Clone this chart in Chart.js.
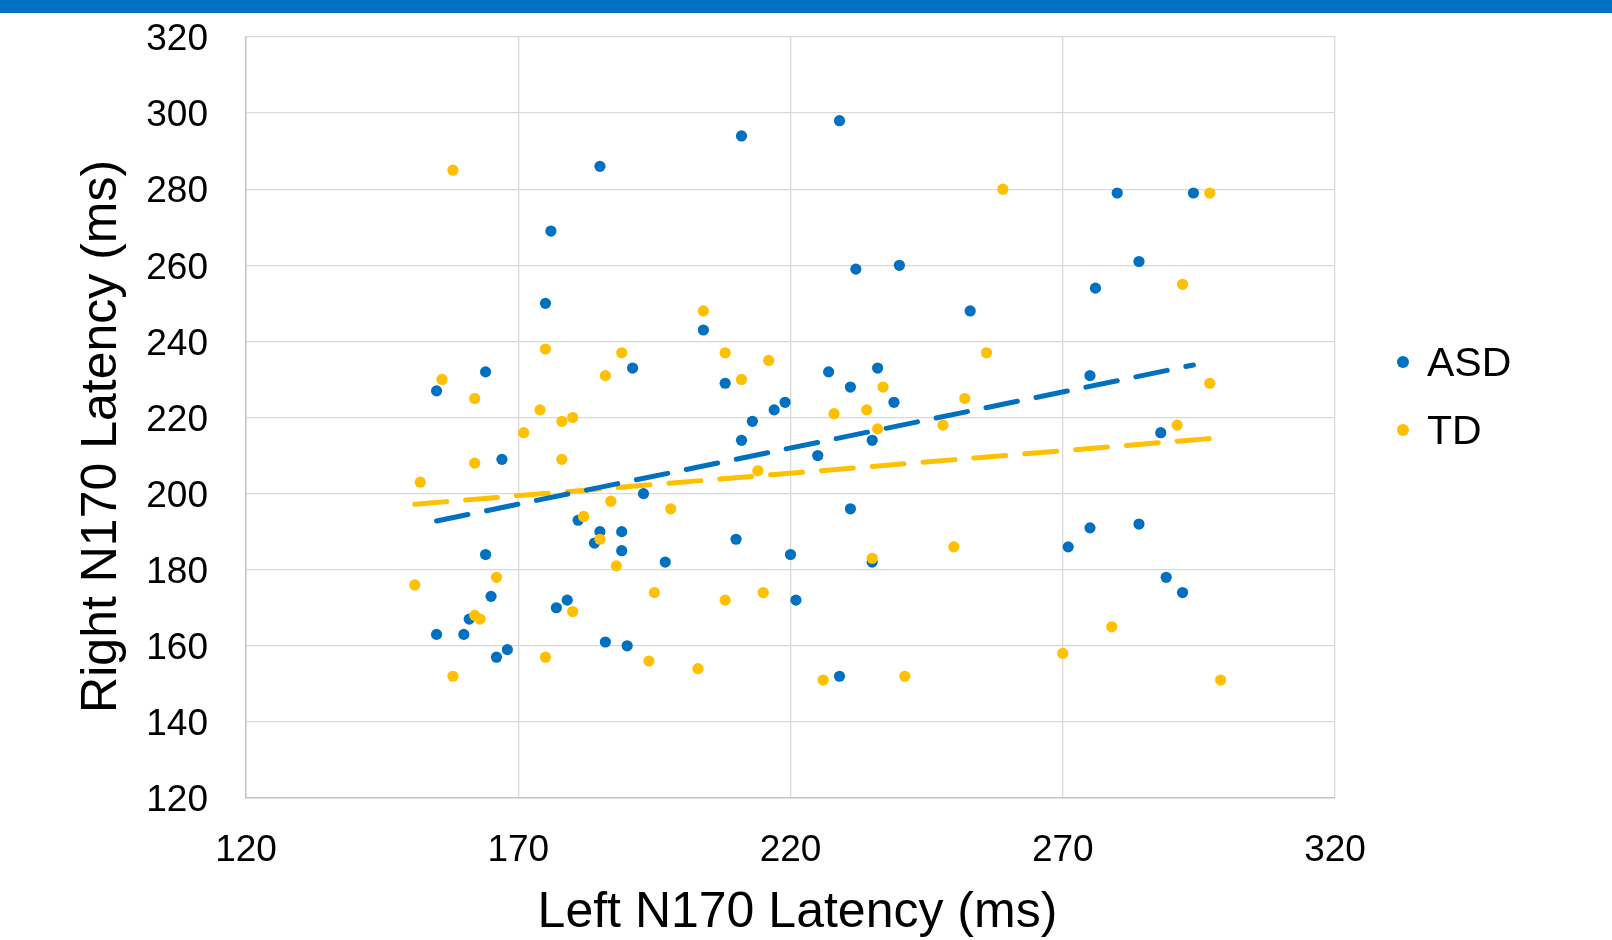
<!DOCTYPE html>
<html>
<head>
<meta charset="utf-8">
<script src="https://cdn.jsdelivr.net/npm/chart.js@4.4.0/dist/chart.umd.min.js"></script>
<style>
  html, body { margin:0; padding:0; background:#fff; }
  #wrap { position:relative; width:1612px; height:940px; overflow:hidden; }
  #topbar { position:absolute; left:0; top:0; width:1612px; height:13px; background:#0070C0; }
  #legend { position:absolute; left:1395px; top:337px; font-family:"Liberation Sans", Arial, sans-serif; }
  .lg-item { display:flex; align-items:center; height:50px; margin-bottom:18px; font-size:41px; line-height:50px; color:#000; }
  .lg-dot { width:12px; height:12px; border-radius:50%; margin-left:2px; margin-right:18px; }
</style>
</head>
<body>
<div id="wrap">
  <canvas id="chart" width="1612" height="940"></canvas>
  <div id="topbar"></div>
  <div id="legend"></div>
</div>
<script>
// Left / right N170 latency (ms), one entry per participant
const asdLeft  = [155,164,155,160,161,165,164,167,166,168,176,175,177,179,181,184,185,189,189,186,
                  190,185,191,193,197,204,208,211,211,210,213,217,219,220,221,225,227,229,229,231,
                  231,232,236,235,235,239,240,253,271,275,275,276,280,284,284,288,289,292,294];
const asdRight = [227,232,163,163,167,173,184,209,157,159,269,250,170,172,193,187,190,190,185,161,
                  160,286,233,200,182,243,229,294,214,188,219,222,224,184,172,210,232,298,152,228,
                  196,259,233,214,182,224,260,248,186,231,191,254,279,261,192,216,178,174,279];
const tdLeft   = [151,152,156,158,158,162,162,162,163,166,171,174,175,175,178,178,180,180,182,185,
                  186,187,188,189,194,195,198,203,204,208,208,211,214,215,216,226,228,234,236,235,
                  237,241,248,250,252,256,259,270,279,291,292,297,297,299];
const tdRight  = [176,203,230,285,152,225,208,168,167,178,216,222,238,157,219,209,220,169,194,188,
                  231,198,181,237,156,174,196,154,248,237,172,230,206,174,235,151,221,222,217,183,
                  228,152,218,186,225,237,280,158,165,218,255,279,229,151];

// linear trendline end points
const asdTrendX = [155, 294];
const asdTrendY = [192.8, 233.8];
const tdTrendX  = [151, 299];
const tdTrendY  = [197.2, 214.7];

const xTicks = { min:120, max:320, step:50 };
const yTicks = { min:120, max:320, step:20 };

const BLUE = "#0070C0";
const GOLD = "#FFC000";
const GRID = "#d9d9d9";

function pts(xs, ys) { return xs.map((x,i) => ({ x, y: ys[i] })); }

Chart.defaults.font.family = '"Liberation Sans", Arial, sans-serif';
Chart.defaults.color = "#000";

const chart = new Chart(document.getElementById("chart"), {
  type: "scatter",
  data: {
    datasets: [
      { label:"ASD trend", type:"line", data:pts(asdTrendX, asdTrendY), borderColor:BLUE,
        borderWidth:5, borderDash:[32,19], borderCapStyle:"round", pointRadius:0, fill:false, order:0 },
      { label:"TD trend", type:"line", data:pts(tdTrendX, tdTrendY), borderColor:GOLD,
        borderWidth:5, borderDash:[32,19], borderCapStyle:"round", pointRadius:0, fill:false, order:1 },
      { label:"TD", data:pts(tdLeft, tdRight), backgroundColor:GOLD, borderWidth:0, pointRadius:5.6, order:2 },
      { label:"ASD", data:pts(asdLeft, asdRight), backgroundColor:BLUE, borderWidth:0, pointRadius:5.6, order:3 }
    ]
  },
  options: {
    responsive:false, animation:false, events:[],
    layout:{ padding:{ top:37, right:277, bottom:0, left:0 } },
    plugins:{ legend:{ display:false }, tooltip:{ enabled:false } },
    scales:{
      x:{
        type:"linear", min:xTicks.min, max:xTicks.max,
        ticks:{ stepSize:xTicks.step, padding:31, font:{ size:37 } },
        grid:{ color:GRID, lineWidth:1.3, drawTicks:false },
        border:{ color:"#c8c8c8", width:1.5 },
        title:{ display:true, text:" Left N170 Latency (ms)", font:{ size:50 }, padding:{ top:0, bottom:-3 } },
        afterFit(s){ s.height = 142; }
      },
      y:{
        type:"linear", min:yTicks.min, max:yTicks.max,
        // gap between labels and axis comes from an invisible tick mark, so the label padding
        // does not push the plot top down
        ticks:{ stepSize:yTicks.step, padding:0, labelOffset:3, font:{ size:37 } },
        grid:{ color:GRID, lineWidth:1.3, drawTicks:true, tickLength:38, tickColor:"rgba(0,0,0,0)" },
        border:{ color:"#c8c8c8", width:1.5 },
        title:{ display:true, text:"Right N170 Latency (ms)  \u2009", font:{ size:50 }, padding:{ top:72, bottom:0 } },
        afterFit(s){ s.width = 246; }
      }
    }
  }
});

// legend, built from the point series
const legend = document.getElementById("legend");
["ASD", "TD"].forEach(name => {
  const ds = chart.data.datasets.find(d => d.label === name);
  const item = document.createElement("div");
  item.className = "lg-item";
  item.innerHTML = `<span class="lg-dot" style="background:${ds.backgroundColor}"></span><span>${name}</span>`;
  legend.appendChild(item);
});
</script>
</body>
</html>
